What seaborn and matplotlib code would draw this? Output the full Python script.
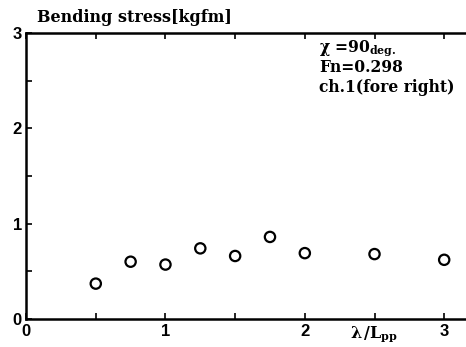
import matplotlib
matplotlib.use("Agg")
import matplotlib.pyplot as plt
import seaborn as sns
import pandas as pd

# Wave length ratio lambda/Lpp and measured bending stress amplitude
wave_ratio = [0.5, 0.75, 1.0, 1.25, 1.5, 1.75, 2.0, 2.5, 3.0]
bending_stress = [0.37, 0.60, 0.57, 0.74, 0.66, 0.86, 0.69, 0.68, 0.62]

x_tick_values = [0, 1, 2, 2.5, 3]
x_tick_labels = ["0", "1", "2", r"$\mathbf{\lambda\,/L}_{\mathbf{pp}}$", "3"]
y_tick_values = [0, 1, 2, 3]
y_tick_labels = ["0", "1", "2", "3"]

title_text = "Bending stress[kgfm]"
condition_lines = [r"$\mathbf{\chi}$ =90$_{\mathbf{deg.}}$", "Fn=0.298", "ch.1(fore right)"]

df = pd.DataFrame({"ratio": wave_ratio, "stress": bending_stress})

sns.set_style("white")
serif = ["DejaVu Serif", "Liberation Serif"]
plt.rcParams["font.family"] = serif
plt.rcParams["mathtext.fontset"] = "dejavuserif"
plt.rcParams["text.color"] = "black"
plt.rcParams["xtick.color"] = "black"
plt.rcParams["ytick.color"] = "black"

fig = plt.figure(figsize=(4.66, 3.47), dpi=100)
ax = fig.add_axes([0.056, 0.081, 0.957, 0.824])

sns.scatterplot(data=df, x="ratio", y="stress", ax=ax, marker="o", s=55,
                facecolor="none", edgecolor="black", linewidth=1.6, legend=False)

ax.set_xlim(0, 3.2)
ax.set_ylim(0, 3)

# inward ticks every 0.5 on all sides
minor = [i * 0.5 for i in range(7)]
ax.set_xticks(minor, minor=True)
ax.set_yticks(minor, minor=True)
ax.set_xticks(x_tick_values)
ax.set_xticklabels(x_tick_labels)
ax.set_yticks(y_tick_values)
ax.set_yticklabels(y_tick_labels)
ax.tick_params(which="both", direction="in", length=4, width=1.2, color="black",
               labelcolor="black", top=True, right=False, bottom=True, left=True)
ax.tick_params(axis="x", which="major", pad=4)
ax.tick_params(axis="y", which="major", pad=3)
for lab in ax.get_xticklabels() + ax.get_yticklabels():
    if "lambda" in lab.get_text():
        lab.set_fontsize(11.5)
        lab.set_fontweight("bold")
    else:
        lab.set_fontfamily(["Liberation Sans", "DejaVu Sans"])
        lab.set_fontsize(12)
        lab.set_fontweight("bold")

for side in ["left", "bottom", "top"]:
    ax.spines[side].set_linewidth(1.8)
    ax.spines[side].set_color("black")
ax.spines["right"].set_visible(False)

ax.set_xlabel("")
ax.set_ylabel("")

fig.text(0.08, 0.975, title_text, ha="left", va="top", fontsize=11.5,
         fontweight="bold", color="black")

y0 = 0.862
for i, line in enumerate(condition_lines):
    fig.text(0.685, y0 - i * 0.057, line, ha="left", va="center",
             fontsize=11.2, fontweight="bold", color="black")

fig.savefig("out.png", dpi=100, facecolor="white")
